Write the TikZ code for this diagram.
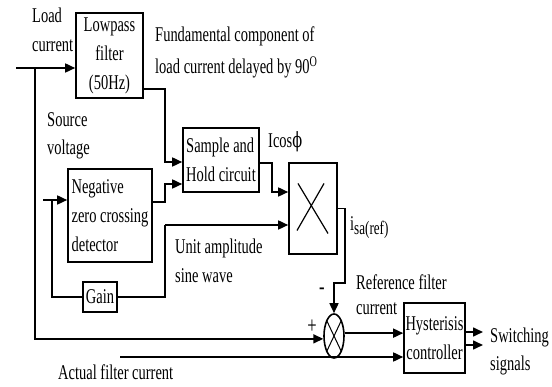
\documentclass[tikz,border=0pt]{standalone}
\usepackage{fontspec}
\newfontfamily\tf[FakeStretch=0.69]{Liberation Serif}
\newfontfamily\phf[FakeStretch=0.69]{DejaVu Serif}
\usetikzlibrary{arrows.meta,shapes.geometric}
\begin{document}
\begin{tikzpicture}[x=1pt,y=-1pt,
  every node/.style={font=\tf\fontsize{21}{29}\selectfont, inner sep=0pt},
  box/.style={draw, line width=1.6pt},
  lbl/.style={anchor=base west},
  ln/.style={line width=1.6pt},
  arr/.style={line width=1.6pt, -{Triangle[length=10pt,width=9pt]}}]
\path[use as bounding box] (0,0) rectangle (552,387);

% blocks
\node[box, minimum width=67pt, minimum height=85pt, align=center] (lpf) at (109.5,55.5) {Lowpass\\filter\\(50Hz)};
\node[box, minimum width=84pt, minimum height=93pt, align=left] (nzc) at (110,215.5) {Negative\\zero crossing\\detector};
\node[box, minimum width=76pt, minimum height=64pt, align=left] (sh) at (221,160) {Sample and\\Hold circuit};
\node[box, minimum width=48pt, minimum height=91pt] (mult) at (313,208.5) {};
\node[box, minimum width=34pt, minimum height=30pt] (gain) at (100,297) {Gain};
\node[box, minimum width=61pt, minimum height=70pt, align=center] (hy) at (434.5,338) {Hysterisis\\controller};
\node[draw, ellipse, line width=1.6pt, minimum width=20pt, minimum height=44pt] (sum) at (334,336) {};

% crosses
\draw[line width=1.2pt] ([shift={(-15,-25)}]mult.center) -- ([shift={(15,25)}]mult.center);
\draw[line width=1.2pt] ([shift={(11,-25)}]mult.center) -- ([shift={(-16,22)}]mult.center);
\draw[line width=1pt] (sum.north west) -- (sum.south east);
\draw[line width=1pt] (sum.north east) -- (sum.south west);

% coordinates
\coordinate (lin) at (16,68);
\coordinate (lbr) at (35,68);
\coordinate (sv) at (43,200);
\coordinate (fb) at (52,200);
\coordinate (lpo) at (143,89);
\coordinate (b1) at (165,162);
\coordinate (nzo) at (152,202);
\coordinate (b2) at (165,184);
\coordinate (sho) at (259,163);
\coordinate (b3) at (272,192);
\coordinate (b4) at (165,225);
\coordinate (c1) at (345,283);
\coordinate (afc) at (120,357);
\coordinate (so1) at (483,332);
\coordinate (so2) at (483,345);

% connectors
\draw[arr] (lin) -- (lpf.west |- lin);
\draw[arr] (lbr) |- (sum.195);
\draw[arr] (sv) -- (nzc.west |- sv);
\draw[ln] (gain.west) -| (fb);
\draw[ln] (gain.east) -| (b4);
\draw[arr] (b4) -- (mult.west |- b4);
\draw[arr] (lpf.east |- lpo) -| (b1) -- (sh.west |- b1);
\draw[arr] (nzc.east |- nzo) -| (b2) -- (sh.west |- b2);
\draw[arr] (sh.east |- sho) -| (b3) -- (mult.west |- b3);
\draw[arr] (mult.east) -| (c1) -| (sum.north);
\draw[arr] (sum.15) -- (hy.west |- sum.15);
\draw[arr] (afc) -- (hy.west |- afc);
\draw[arr] (hy.east |- so1) -- (so1);
\draw[arr] (hy.east |- so2) -- (so2);

% labels
\node[lbl] (t1) at (32,22.5) {Load};
\node[lbl] (t2) at (32,52) {current};
\node[lbl] (t3) at (47,127) {Source};
\node[lbl] (t4) at (47,155) {voltage};
\node[lbl] (t5) at (155,42) {Fundamental component of};
\node[lbl] (t6) at (155,74) {load current delayed by 90\textsuperscript{O}};
\node[lbl] (t7) at (268,148) {Icos{\phf ϕ}};
\node[lbl] (t8) at (350,231) {i\raisebox{-4pt}{\fontsize{19}{19}\selectfont sa(ref)}};
\node[lbl] (t9) at (175,254) {Unit amplitude};
\node[lbl] (t10) at (175,283) {sine wave};
\node[lbl] (t11) at (356,290) {Reference filter};
\node[lbl] (t12) at (356,315) {current};
\node[lbl] (t13) at (490,343) {Switching};
\node[lbl] (t14) at (490,371) {signals};
\node[lbl] (t15) at (58,380) {Actual filter current};
\node[font=\tf\fontsize{24}{24}\selectfont] (plus) at (312,327) {+};
\node[font=\tf\fontsize{24}{24}\selectfont] (minus) at (322,291) {-};
\end{tikzpicture}
\end{document}
